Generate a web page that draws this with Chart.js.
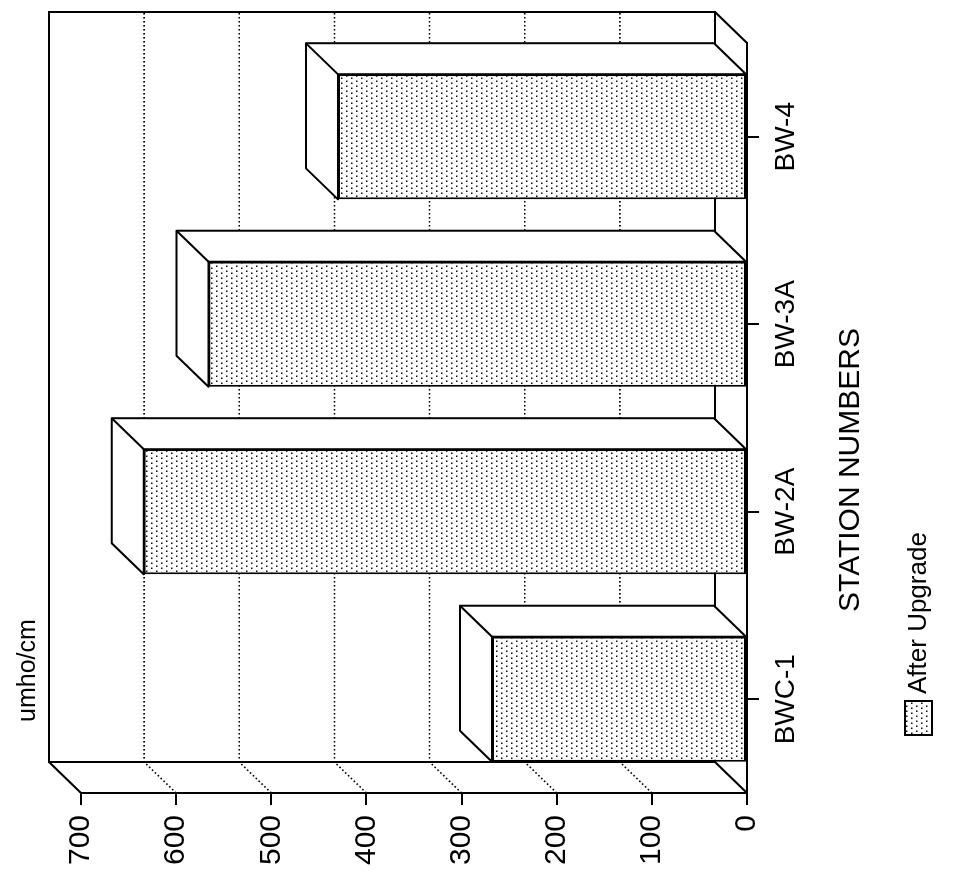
<!DOCTYPE html>
<html>
<head>
<meta charset="utf-8">
<script src="https://cdn.jsdelivr.net/npm/chart.js@4"></script>
<style>
html, body { margin: 0; padding: 0; background: #fff; overflow: hidden; }
#wrap { position: relative; width: 963px; height: 880px; }
/* the chart is drawn upright and then turned a quarter left, like the scanned page */
#chart { position: absolute; left: 0; top: 0; transform-origin: 0 0; transform: translateY(880px) rotate(-90deg); }
</style>
</head>
<body>
<div id="wrap"><canvas id="chart" width="880" height="963"></canvas></div>
<script>
const stations = ["BWC-1", "BW-2A", "BW-3A", "BW-4"];
const afterUpgrade = [268, 634, 566, 430];
const valueTicks = [0, 100, 200, 300, 400, 500, 600, 700];
const unitLabel = "umho/cm";
const axisTitle = "STATION NUMBERS";
const seriesName = "After Upgrade";

const FONT = "'Liberation Sans', Arial, sans-serif";
const DX = 31, DY = -32; // depth of the 3D box

function makeDots() {
    const c = document.createElement("canvas");
    c.width = 10; c.height = 10;
    const g = c.getContext("2d");
    g.fillStyle = "#fff";
    g.fillRect(0, 0, 10, 10);
    g.fillStyle = "#111";
    g.fillRect(1, 1, 1.5, 1.5);
    g.fillRect(6, 1, 1.5, 1.5);
    g.fillRect(3, 6, 1.5, 1.5);
    g.fillRect(8, 6, 1.5, 1.5);
    return g.createPattern(c, "repeat");
}

document.addEventListener("DOMContentLoaded", function () {
    const ctx = document.getElementById("chart");
    const dots = makeDots();

    const box3d = {
        id: "box3d",
        beforeDatasetsDraw(chart) {
            const c = chart.ctx;
            const area = chart.chartArea;
            const y = chart.scales.y;
            const yTop = y.getPixelForValue(valueTicks[valueTicks.length - 1]);
            const yBot = y.getPixelForValue(0);
            const L = area.left, R = area.right;

            c.save();
            c.strokeStyle = "#000";
            c.lineWidth = 1.6;
            c.setLineDash([1.6, 2.4]);
            valueTicks.forEach(function (v) {
                if (v === 0 || v === valueTicks[valueTicks.length - 1]) return;
                const py = y.getPixelForValue(v);
                c.beginPath();
                c.moveTo(L, py);
                c.lineTo(L + DX, py + DY);
                c.lineTo(R + DX, py + DY);
                c.stroke();
            });
            c.setLineDash([]);
            c.lineWidth = 2;
            c.beginPath();
            // back wall
            c.moveTo(L + DX, yBot + DY);
            c.lineTo(L + DX, yTop + DY);
            c.lineTo(R + DX, yTop + DY);
            c.lineTo(R + DX, yBot + DY);
            c.lineTo(L + DX, yBot + DY);
            // side wall and floor edges
            c.moveTo(L, yTop); c.lineTo(L + DX, yTop + DY);
            c.moveTo(L, yBot); c.lineTo(L + DX, yBot + DY);
            c.moveTo(R, yBot); c.lineTo(R + DX, yBot + DY);
            c.stroke();

            // top and side faces of the bars
            chart.getDatasetMeta(0).data.forEach(function (bar) {
                const l = bar.x - bar.width / 2, r = bar.x + bar.width / 2;
                const t = bar.y, b = bar.base;
                c.fillStyle = "#fff";
                c.lineJoin = "round";
                c.beginPath();
                c.moveTo(l, t);
                c.lineTo(l + DX, t + DY);
                c.lineTo(r + DX, t + DY);
                c.lineTo(r + DX, b + DY);
                c.lineTo(r, b);
                c.lineTo(r, t);
                c.closePath();
                c.fill();
                c.stroke();
                c.beginPath();
                c.moveTo(r, t);
                c.lineTo(r + DX, t + DY);
                c.stroke();
            });
            c.restore();
        },
        afterDraw(chart) {
            const c = chart.ctx;
            c.save();
            c.fillStyle = "#000";
            c.textBaseline = "alphabetic";
            c.textAlign = "left";
            c.font = "25px " + FONT;
            c.fillText(unitLabel, 158, 35);

            c.font = "30px " + FONT;
            c.textAlign = "center";
            c.textBaseline = "middle";
            c.fillText(axisTitle, 410, 851);

            // legend
            c.fillStyle = dots;
            c.fillRect(145, 905, 34, 27);
            c.strokeStyle = "#000";
            c.lineWidth = 2;
            c.strokeRect(145, 905, 34, 27);
            c.fillStyle = "#000";
            c.font = "26px " + FONT;
            c.textAlign = "left";
            c.fillText(seriesName, 186, 919);
            c.restore();
        }
    };

    new Chart(ctx, {
        type: "bar",
        data: {
            labels: stations,
            datasets: [{
                label: seriesName,
                data: afterUpgrade,
                backgroundColor: dots,
                borderColor: "#000",
                borderWidth: 2,
                borderSkipped: false,
                barPercentage: 0.667,
                categoryPercentage: 1.0
            }]
        },
        options: {
            responsive: false,
            animation: false,
            devicePixelRatio: 1,
            layout: { padding: { left: 0, top: 81, right: 43, bottom: 0 } },
            plugins: {
                legend: { display: false },
                tooltip: { enabled: false }
            },
            scales: {
                x: {
                    afterFit: function (scale) { scale.height = 216; },
                    grid: { display: true, drawOnChartArea: false, drawTicks: true, tickLength: 12, color: "#000", lineWidth: 2, offset: false },
                    border: { display: true, color: "#000", width: 2 },
                    ticks: { color: "#000", padding: 10, font: { family: FONT, size: 28 } }
                },
                y: {
                    min: 0,
                    max: 700,
                    afterFit: function (scale) { scale.width = 87; },
                    afterBuildTicks: function (scale) {
                        scale.ticks = valueTicks.map(function (v) { return { value: v }; });
                    },
                    grid: { display: true, drawOnChartArea: false, drawTicks: true, tickLength: 12, color: "#000", lineWidth: 2 },
                    border: { display: true, color: "#000", width: 2 },
                    ticks: { color: "#000", padding: 10, font: { family: FONT, size: 30 } }
                }
            }
        },
        plugins: [box3d]
    });
});
</script>
</body>
</html>
